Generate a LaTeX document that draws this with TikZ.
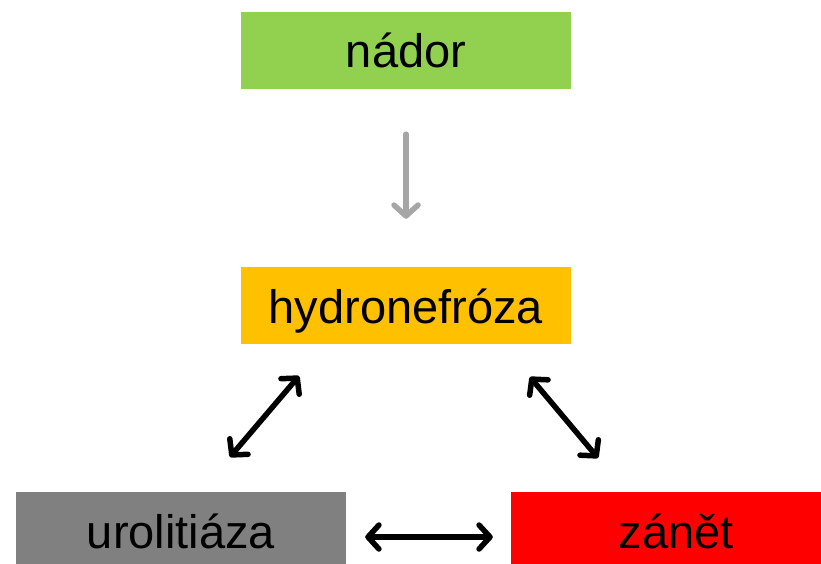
\documentclass[tikz,border=0pt]{standalone}
\usepackage{fontspec}
\setmainfont{Liberation Sans}
\usetikzlibrary{arrows.meta}
\definecolor{cgreen}{RGB}{146,208,80}
\definecolor{corange}{RGB}{255,192,0}
\definecolor{cgray}{RGB}{128,128,128}
\definecolor{cred}{RGB}{255,0,0}
\definecolor{carrow}{RGB}{166,166,166}
\tikzset{
  box/.style={inner sep=0pt, minimum width=330pt, minimum height=77pt, text height=56pt, text depth=21pt, font=\fontsize{47}{47}\selectfont, text=black},
  dbl/.style={line width=5.5pt, line cap=round, draw=black, {Straight Barb[length=11pt,width=24pt,line cap=round,line join=round]}-{Straight Barb[length=11pt,width=24pt,line cap=round,line join=round]}},
  sgl/.style={line width=5.5pt, line cap=round, draw=carrow, -{Straight Barb[length=11pt,width=24pt,line cap=round,line join=round]}}
}
\begin{document}
\begin{tikzpicture}[x=1pt,y=-1pt]
\useasboundingbox (0,0) rectangle (821,564);
\node[box, fill=cgreen] (nador) at (406,50.5) {nádor};
\node[box, fill=corange] (hyd) at (406,305.5) {hydronefróza};
\node[box, fill=cgray] (uro) at (181,530.5) {urolitiáza};
\node[box, fill=cred] (zan) at (676,530.5) {zánět};
\coordinate (a1) at (299,376);
\coordinate (a2) at (230,457);
\coordinate (b1) at (530,377);
\coordinate (b2) at (598,458);
\draw[sgl, shorten <=45pt, shorten >=48pt] (nador.south) -- (hyd.north);
\draw[dbl] (a2) -- (a1);
\draw[dbl] (b1) -- (b2);
\draw[dbl, shorten <=19pt, shorten >=18pt] (uro.east |- 0,537) -- (zan.west |- 0,537);
\end{tikzpicture}
\end{document}
